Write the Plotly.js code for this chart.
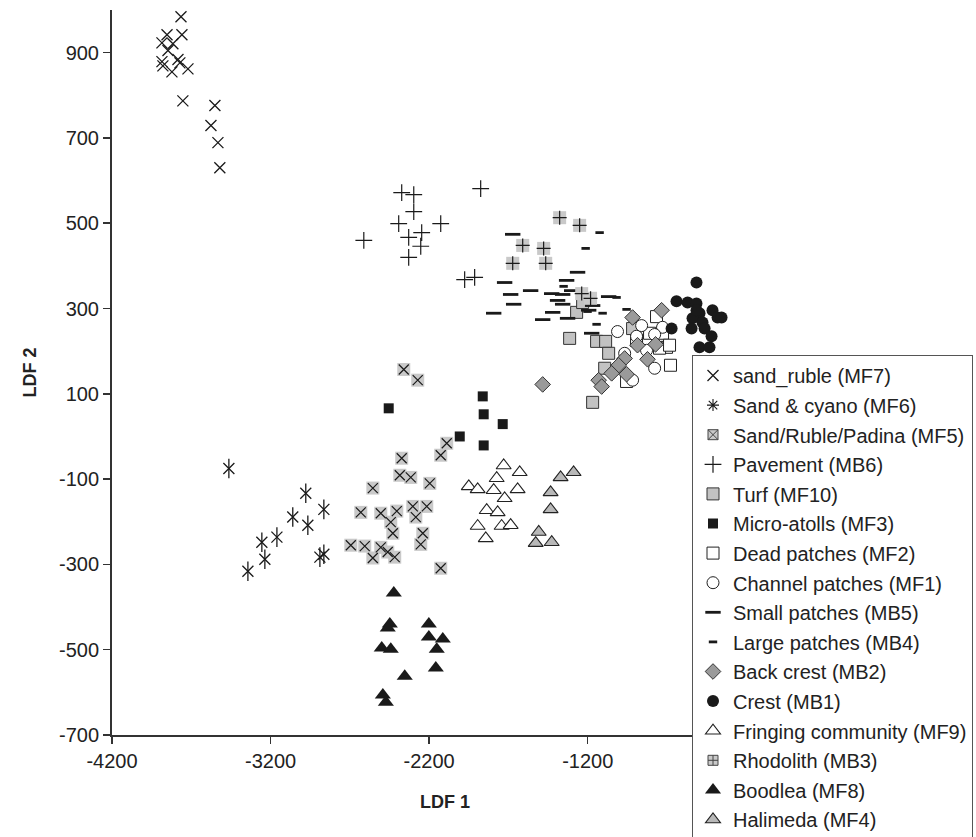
<!DOCTYPE html>
<html>
<head>
<meta charset="utf-8">
<script src="https://cdn.plot.ly/plotly-3.0.1.min.js"></script>
<style>html,body{margin:0;padding:0;background:#fff;}#chart{width:976px;height:837px;}</style>
</head>
<body>
<div id="chart"></div>
<script>
// ---- data ----
const sandRubbleX = [-3765,-3853,-3759,-3885,-3816,-3847,-3885,-3784,-3879,-3822,-3772,-3721,-3753,-3551,-3576,-3532,-3520];
const sandRubbleY = [984,942,942,923,921,905,879,884,869,855,876,862,787,776,729,689,630];

const sandCyanoX = [-3463,-2978,-2864,-3060,-2965,-3255,-3160,-3236,-3343,-2889,-2864];
const sandCyanoY = [-75,-133,-171,-189,-208,-248,-236,-288,-316,-283,-276];

const padinaX = [-2360,-2272,-2089,-2127,-2373,-2385,-2316,-2196,-2555,-2631,-2505,-2404,-2303,-2215,-2442,-2284,-2429,-2240,-2253,-2694,-2606,-2505,-2461,-2555,-2417,-2127];
const padinaY = [157,132,-16,-44,-51,-91,-96,-110,-121,-178,-180,-175,-164,-164,-201,-189,-227,-227,-253,-255,-257,-260,-271,-285,-283,-309];

const pavementX = [-2373,-2297,-2297,-2392,-2127,-2329,-2247,-2253,-2612,-2329,-1875,-1976,-1913];
const pavementY = [572,567,527,499,499,467,478,446,460,420,581,368,373];

const turfX = [-1144,-1087,-1068,-1169,-1093,-917,-1270,-1232,-1314];
const turfY = [223,223,195,80,160,253,291,314,230];

const microX = [-1862,-1856,-1736,-2007,-1856,-2455];
const microY = [94,52,29,0,-21,66];

const deadX = [-766,-810,-728,-703,-747,-684,-678,-955,-892];
const deadY = [281,242,242,209,207,214,167,129,225];

const channelX = [-1012,-892,-728,-778,-967,-829,-778,-917,-860];
const channelY = [246,235,256,239,195,202,160,132,260];

const smallX = [-1673,-1724,-1686,-1560,-1667,-1793,-1427,-1358,-1333,-1264,-1301,-1390,-1358,-1421,-1484,-1327,-1068,-1169,-1194,-1175];
const smallY = [474,361,333,342,310,289,335,333,366,385,342,319,310,291,274,277,328,307,296,242];

const largeX = [-1125,-1213,-1352,-955,-1106,-1144,-1018,-1201];
const largeY = [478,441,352,298,289,263,326,293];

const backCrestX = [-734,-917,-886,-772,-823,-967,-1005,-1049,-955,-1131,-1112,-1484];
const backCrestY = [296,279,214,216,181,183,167,148,146,132,117,122];

const crestX = [-514,-640,-570,-514,-413,-381,-495,-539,-476,-545,-671,-463,-419,-495,-432,-514,-356];
const crestY = [361,317,314,312,296,279,289,277,267,253,253,253,235,209,209,296,279];

const fringingX = [-1730,-1629,-1774,-1950,-1894,-1793,-1642,-1724,-1837,-1768,-1894,-1743,-1686,-1843];
const fringingY = [-68,-84,-98,-117,-124,-126,-124,-145,-173,-178,-210,-210,-208,-239];

const rhodoX = [-1377,-1251,-1610,-1478,-1673,-1465,-1238,-1182];
const rhodoY = [513,495,448,441,406,406,335,324];

const boodleaX = [-2423,-2448,-2461,-2499,-2442,-2202,-2202,-2114,-2152,-2158,-2354,-2492,-2473];
const boodleaY = [-367,-440,-449,-496,-499,-440,-470,-475,-499,-543,-562,-606,-623];

const halimedaX = [-1289,-1371,-1434,-1434,-1509,-1528,-1427];
const halimedaY = [-84,-96,-131,-171,-224,-250,-248];

const xTickVals = [-4200,-3200,-2200,-1200];
const xTickText = ["-4200","-3200","-2200","-1200"];
const yTickVals = [-700,-500,-300,-100,100,300,500,700,900];
const yTickText = ["-700","-500","-300","-100","100","300","500","700","900"];

const names = ["sand_ruble (MF7)","Sand & cyano (MF6)","Sand/Ruble/Padina (MF5)","Pavement (MB6)","Turf (MF10)",
  "Micro-atolls (MF3)","Dead patches (MF2)","Channel patches (MF1)","Small patches (MB5)","Large patches (MB4)",
  "Back crest (MB2)","Crest (MB1)","Fringing community (MF9)","Rhodolith (MB3)","Boodlea (MF8)","Halimeda (MF4)"];

// ---- styling ----
const K = '#1a1a1a';
const LG = '#c9c9c9';
function tr(x, y, name, marker, showlegend) {
  return {type:'scatter', mode:'markers', x:x, y:y, name:name, legendgroup:name,
          showlegend:showlegend, hoverinfo:'skip', marker:marker};
}
function lineSym(sym, size, w) {
  return {symbol:sym, size:size, color:K, line:{color:K, width:w}};
}
const traces = [];
traces.push(tr(sandRubbleX, sandRubbleY, names[0], lineSym('x-thin', 11, 1.3), true));
traces.push(tr(sandCyanoX, sandCyanoY, names[1], lineSym('x-thin', 11, 1.3), false));
traces.push(tr(sandCyanoX, sandCyanoY, names[1], lineSym('line-ns', 14, 1.3), false));
traces.push(tr([null], [null], names[1], lineSym('asterisk', 10, 1.1), true));
traces.push(tr(padinaX, padinaY, names[2], {symbol:'square', size:13, color:LG, line:{width:0}}, false));
traces.push(tr(padinaX, padinaY, names[2], lineSym('x-thin', 10, 1.2), false));
traces.push(tr([null], [null], names[2], {symbol:'square-x', size:10, color:LG, line:{color:'#444', width:1}}, true));
traces.push(tr(pavementX, pavementY, names[3], lineSym('cross-thin', 12, 1.2), true));
traces.push(tr(turfX, turfY, names[4], {symbol:'square', size:12, color:'#c2c2c2', line:{color:'#333', width:1}}, true));
traces.push(tr(microX, microY, names[5], {symbol:'square', size:10, color:K, line:{width:0}}, true));
traces.push(tr(deadX, deadY, names[6], {symbol:'square', size:12, color:'#fff', line:{color:'#222', width:1}}, true));
traces.push(tr(channelX, channelY, names[7], {symbol:'circle', size:12, color:'#fff', line:{color:'#222', width:1}}, true));
traces.push(tr(smallX, smallY, names[8], lineSym('line-ew', 11, 2.8), true));
traces.push(tr(largeX, largeY, names[9], lineSym('line-ew', 6, 2.8), true));
traces.push(tr(backCrestX, backCrestY, names[10], {symbol:'diamond', size:12, color:'#9a9a9a', line:{color:'#333', width:1}}, true));
traces.push(tr(crestX, crestY, names[11], {symbol:'circle', size:12, color:K, line:{width:0}}, true));
traces.push(tr(fringingX, fringingY, names[12], {symbol:'triangle-up', size:13, color:'#fff', line:{color:'#222', width:1.1}}, true));
traces.push(tr(rhodoX, rhodoY, names[13], {symbol:'square', size:13, color:LG, line:{width:0}}, false));
traces.push(tr(rhodoX, rhodoY, names[13], lineSym('cross-thin', 10, 1.2), false));
traces.push(tr([null], [null], names[13], {symbol:'square-cross', size:10, color:LG, line:{color:'#444', width:1}}, true));
traces.push(tr(boodleaX, boodleaY, names[14], {symbol:'triangle-up', size:14, color:K, line:{width:0}}, true));
traces.push(tr(halimedaX, halimedaY, names[15], {symbol:'triangle-up', size:13, color:'#b8b8b8', line:{color:'#222', width:1.1}}, true));

const font = '"Liberation Sans", Arial, Helvetica, sans-serif';
const layout = {
  width:976, height:837,
  margin:{l:112, r:198, t:10, b:102, autoexpand:false},
  paper_bgcolor:'#fff', plot_bgcolor:'#fff',
  font:{family:font, size:20, color:'#222'},
  showlegend:true,
  xaxis:{
    range:[-4200, 0], tickmode:'array', tickvals:xTickVals, ticktext:xTickText,
    showgrid:false, zeroline:false,
    showline:true, linecolor:'#333', linewidth:2, ticks:'outside', ticklen:7, tickwidth:1.5, tickcolor:'#333',
    tickfont:{size:20, color:'#222'},
    title:{text:'<b>LDF 1</b>', font:{size:18, color:'#222'}, standoff:24}
  },
  yaxis:{
    range:[-700, 1000], tickmode:'array', tickvals:yTickVals, ticktext:yTickText,
    showgrid:false, zeroline:false,
    showline:true, linecolor:'#333', linewidth:2, ticks:'outside', ticklen:7, tickwidth:1.5, tickcolor:'#333',
    tickfont:{size:20, color:'#222'},
    title:{text:'<b>LDF 2</b>', font:{size:18, color:'#222'}, standoff:18}
  },
  legend:{
    x:(692-112)/666, xanchor:'left', y:(735-355)/725, yanchor:'top',
    bgcolor:'#fff', bordercolor:'#555', borderwidth:1,
    font:{size:20, color:'#222', family:font},
    traceorder:'grouped', tracegroupgap:0.6, itemsizing:'trace'
  }
};
Plotly.newPlot('chart', traces, layout, {displayModeBar:false, staticPlot:true});
</script>
</body>
</html>
